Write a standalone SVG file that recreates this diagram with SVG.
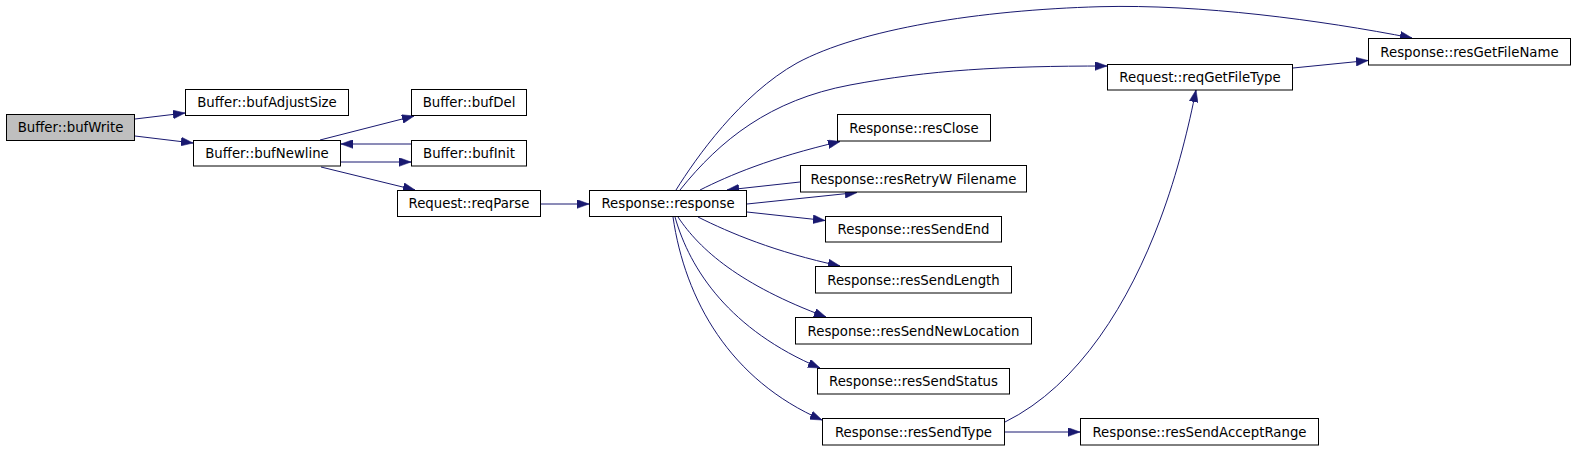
<svg xmlns="http://www.w3.org/2000/svg" width="1576" height="450" viewBox="0 0 1576 450">
<style>
.n rect{fill:#fff;stroke:#000;stroke-width:1}
.n text{font-family:"DejaVu Sans",sans-serif;font-size:13.3px;fill:#000;text-anchor:middle}
#edges path{fill:none;stroke:#191970;stroke-width:1;marker-end:url(#ah)}
</style>
<defs>
<marker id="ah" markerUnits="userSpaceOnUse" markerWidth="12" markerHeight="9" viewBox="0 0 11 8" refX="11" refY="4" orient="auto">
<path d="M0,0 L11,4 L0,8 z" fill="#191970" stroke="#191970" stroke-width="0.5"/>
</marker>
</defs>
<rect width="1576" height="450" fill="#fff"/>
<g id="edges">
<path d="M135,119 L185,113"/>
<path d="M135,136 L193,143"/>
<path d="M320,140 L414,116"/>
<path d="M411,144 L341,144"/>
<path d="M341,162 L411,162"/>
<path d="M321,167 L415,190"/>
<path d="M541,204 L589,204"/>
<path d="M676,190 C696,158 740,95 797,63 C860,29 980,10 1100,6.7 C1200,4 1320,20 1412,38"/>
<path d="M680,190 C720,140 770,100 850,85 C930,70 1000,66 1107,66"/>
<path d="M700,190 C730,175 770,158 840,141.5"/>
<path d="M800,182 L727,190"/>
<path d="M747,204 L857,192.5"/>
<path d="M747,212 L825,220.5"/>
<path d="M698,217 C730,233 775,252 840,266"/>
<path d="M678,217 C700,250 740,285 826,317"/>
<path d="M675,217 C690,270 730,330 820,368"/>
<path d="M673,217 C685,300 730,380 822,420"/>
<path d="M1005,432 L1080,432"/>
<path d="M1005,422 C1080,385 1130,300 1160,220 C1178,172 1189,125 1196,90"/>
<path d="M1293,68 L1368,60.5"/>
</g>
<g id="bufWrite" class="n"><rect x="6.5" y="114.5" width="128" height="26" style="fill:#bfbfbf"/><text x="70.5" y="132">Buffer::bufWrite</text></g>
<g id="bufAdjustSize" class="n"><rect x="185.5" y="89.5" width="163" height="26"/><text x="267" y="107">Buffer::bufAdjustSize</text></g>
<g id="bufNewline" class="n"><rect x="193.5" y="140.5" width="147" height="25.5"/><text x="267" y="158">Buffer::bufNewline</text></g>
<g id="bufDel" class="n"><rect x="411.5" y="89.5" width="115" height="26"/><text x="469" y="107">Buffer::bufDel</text></g>
<g id="bufInit" class="n"><rect x="411.5" y="140.5" width="115" height="25.5"/><text x="469" y="158">Buffer::bufInit</text></g>
<g id="reqParse" class="n"><rect x="397.5" y="190.5" width="143" height="26"/><text x="469" y="208">Request::reqParse</text></g>
<g id="response" class="n"><rect x="589.5" y="190.5" width="157" height="26"/><text x="668" y="208">Response::response</text></g>
<g id="resClose" class="n"><rect x="837.5" y="114.5" width="153" height="26.5"/><text x="914" y="132.5">Response::resClose</text></g>
<g id="resRetryWFilename" class="n"><rect x="800.5" y="165.5" width="226" height="26.5"/><text x="913.5" y="183.5">Response::resRetryW Filename</text></g>
<g id="resSendEnd" class="n"><rect x="825.5" y="216.5" width="176" height="25.5"/><text x="913.5" y="234">Response::resSendEnd</text></g>
<g id="resSendLength" class="n"><rect x="815.5" y="266.5" width="196" height="26.5"/><text x="913.5" y="284.5">Response::resSendLength</text></g>
<g id="resSendNewLocation" class="n"><rect x="795.5" y="317.5" width="236" height="26.5"/><text x="913.5" y="335.5">Response::resSendNewLocation</text></g>
<g id="resSendStatus" class="n"><rect x="817.5" y="368.5" width="192" height="25.5"/><text x="913.5" y="386">Response::resSendStatus</text></g>
<g id="resSendType" class="n"><rect x="822.5" y="418.5" width="182" height="26.5"/><text x="913.5" y="436.5">Response::resSendType</text></g>
<g id="resSendAcceptRange" class="n"><rect x="1080.5" y="418.5" width="238" height="26.5"/><text x="1199.5" y="436.5">Response::resSendAcceptRange</text></g>
<g id="reqGetFileType" class="n"><rect x="1107.5" y="64.5" width="185" height="25.5"/><text x="1200" y="82">Request::reqGetFileType</text></g>
<g id="resGetFileName" class="n"><rect x="1368.5" y="38.5" width="202" height="26.5"/><text x="1469.5" y="56.5">Response::resGetFileName</text></g>
</svg>
